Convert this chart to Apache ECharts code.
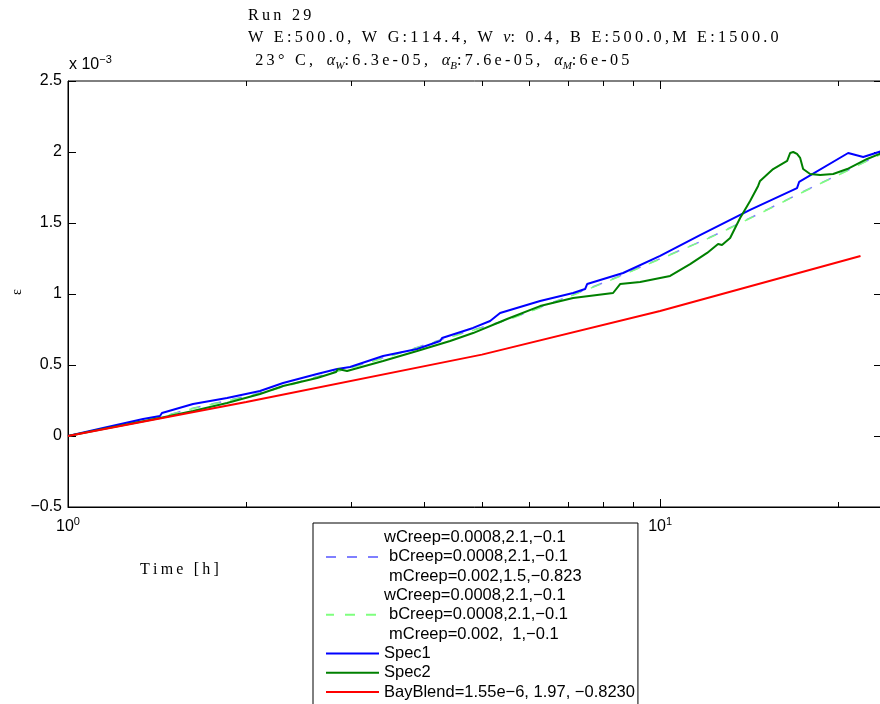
<!DOCTYPE html>
<html>
<head>
<meta charset="utf-8">
<script src="https://cdn.jsdelivr.net/npm/echarts@6/dist/echarts.min.js"></script>
<style>
  html, body { margin: 0; padding: 0; background: #fff; overflow: hidden; }
  #chart { width: 880px; height: 704px; }
</style>
</head>
<body>
<div id="chart"></div>
<script>
// Creep strain (x 1e-3) versus time [h], log time axis
const timeSpec1 = [1, 1.146, 1.339, 1.43, 1.441, 1.626, 1.856, 2.11, 2.308, 2.634, 2.848, 2.995, 3.405, 3.887, 4.25, 4.283, 4.832, 5.163, 5.367, 6.27, 7.129, 7.47, 7.529, 8.66, 10, 11.68, 14.19, 17.03, 17.17, 20.78, 22.03, 23.7];
const strainSpec1 = [0, 0.056, 0.120, 0.141, 0.162, 0.225, 0.268, 0.317, 0.373, 0.437, 0.472, 0.486, 0.563, 0.613, 0.669, 0.690, 0.761, 0.810, 0.866, 0.951, 1.007, 1.035, 1.070, 1.148, 1.268, 1.415, 1.592, 1.746, 1.789, 1.993, 1.965, 2.007];

const timeSpec2 = [1, 1.146, 1.43, 1.626, 1.856, 2.11, 2.308, 2.634, 2.836, 2.858, 2.96, 3.405, 3.887, 4.419, 4.832, 5.515, 6.27, 7.129, 8.329, 8.559, 9.253, 10, 10.397, 11.238, 12.006, 12.53, 12.72, 13.13, 13.65, 14.19, 14.64, 14.75, 15.52, 16.39, 16.58, 16.78, 17.03, 17.24, 17.44, 17.92, 18.63, 19.6, 20.7, 22.37, 23.7];
const strainSpec2 = [0, 0.049, 0.127, 0.176, 0.232, 0.296, 0.352, 0.408, 0.451, 0.472, 0.458, 0.528, 0.599, 0.669, 0.725, 0.824, 0.915, 0.972, 1.007, 1.070, 1.085, 1.113, 1.127, 1.211, 1.289, 1.352, 1.345, 1.394, 1.535, 1.655, 1.761, 1.796, 1.880, 1.937, 1.993, 2.000, 1.986, 1.958, 1.880, 1.845, 1.838, 1.845, 1.880, 1.951, 1.993];

const timeFit = [1, 1.146, 1.43, 1.626, 2.11, 2.634, 3.405, 4.594, 5.472, 6.443, 8.138, 9.507, 12.006, 14.03, 16.58, 18.13, 20.7, 23.7];
const strainFit1 = [0, 0.052, 0.135, 0.195, 0.303, 0.418, 0.550, 0.720, 0.815, 0.925, 1.090, 1.210, 1.390, 1.525, 1.675, 1.755, 1.870, 1.990];
const strainFit2 = [0, 0.051, 0.133, 0.193, 0.300, 0.414, 0.547, 0.717, 0.812, 0.922, 1.087, 1.207, 1.388, 1.523, 1.673, 1.753, 1.868, 1.988];

const timeBlend = [1, 2, 5, 10, 21.8];
const strainBlend = [0, 0.239, 0.573, 0.880, 1.268];

const seriesNames = [
  'wCreep=0.0008,2.1,\u22120.1\nbCreep=0.0008,2.1,\u22120.1\nmCreep=0.002,1.5,\u22120.823',
  'wCreep=0.0008,2.1,\u22120.1\nbCreep=0.0008,2.1,\u22120.1\nmCreep=0.002,  1,\u22120.1',
  'Spec1',
  'Spec2',
  'BayBlend=1.55e\u22126, 1.97, \u22120.8230'
];

// log-axis minor ticks and decade ticks, mirrored on the top edge
const xTickValues = [2, 3, 4, 5, 6, 7, 8, 9, 10, 20];

const yMin = -0.5, yMax = 2.5, yStep = 0.5;
const xMin = 1, xMax = 23.7;

const pairs = (xs, ys) => xs.map((x, i) => [x, ys[i]]);
const spread = s => Array.from(s).join('\u2009');
const gap = '\u2009\u2009';

const titleText = [
  '{r|' + spread('Run 29') + '}',
  '{r|' + spread('W E:500.0, W G:114.4, W ') + '\u2009}{i|\u03bd}{r|' + spread(': 0.4, B E:500.0,M E:1500.0') + '}',
  '{r|' + spread(' 23\u00b0 C, ') + gap + '}{i|\u03b1}{sub|W}{r|' + spread(':6.3e-05, ') + gap + '}{i|\u03b1}{sub|B}{r|' +
    spread(':7.6e-05, ') + gap + '}{i|\u03b1}{sub|M}{r|' + spread(':6e-05') + '}'
].join('\n');

const serif = 'Liberation Serif';
const sans = 'Liberation Sans';

const chart = echarts.init(document.getElementById('chart'));
chart.setOption({
  animation: false,
  backgroundColor: '#fff',
  textStyle: { fontFamily: sans },
  title: {
    text: titleText,
    left: 248,
    top: 4,
    padding: 0,
    textStyle: {
      fontWeight: 'normal',
      rich: {
        r: { fontFamily: serif, fontSize: 16.2, fontWeight: 'normal', lineHeight: 22.5, color: '#000' },
        i: { fontFamily: serif, fontSize: 16.2, fontWeight: 'normal', fontStyle: 'italic', lineHeight: 22.5, color: '#000' },
        sub: { fontFamily: serif, fontSize: 11, fontWeight: 'normal', fontStyle: 'italic', lineHeight: 15, verticalAlign: 'bottom', color: '#000' }
      }
    }
  },
  grid: {
    left: 68, top: 81, right: -2, bottom: 197,
    outerBoundsMode: 'none',
    show: true, borderColor: '#000', borderWidth: 1, backgroundColor: 'transparent'
  },
  legend: {
    data: seriesNames,
    orient: 'vertical',
    left: 313,
    top: 523,
    itemWidth: 53,
    itemHeight: 10,
    itemGap: 0,
    padding: [5, 3, 5, 12],
    borderColor: '#000',
    borderWidth: 1,
    borderRadius: 0,
    backgroundColor: '#fff',
    selectedMode: false,
    itemStyle: { opacity: 0 },
    formatter: name => {
      const lines = name.split('\n');
      if (lines.length === 1) return '{t|' + name + '}';
      return lines.map((l, k) => (k === 0 ? '{t|' : '{p|') + l + '}').join('\n');
    },
    textStyle: {
      color: '#000',
      fontFamily: sans,
      fontSize: 16.5,
      lineHeight: 19.3,
      rich: {
        t: { fontFamily: sans, fontSize: 16.5, lineHeight: 19.3, color: '#000' },
        p: { fontFamily: sans, fontSize: 16.5, lineHeight: 19.3, color: '#000', padding: [0, 0, 0, 5] }
      }
    }
  },
  xAxis: [{
    type: 'log',
    logBase: 10,
    min: xMin,
    max: xMax,
    position: 'bottom',
    axisLine: { show: true, onZero: false, lineStyle: { color: '#000', width: 1 } },
    axisTick: { show: false },
    splitLine: { show: false },
    axisLabel: {
      margin: 9,
      formatter: v => {
        const e = Math.log10(v);
        if (Math.abs(e - Math.round(e)) > 1e-6) return '';
        return '{b|10}{s|' + Math.round(e) + '}';
      },
      rich: {
        b: { fontFamily: sans, fontSize: 16, lineHeight: 22, color: '#000' },
        s: { fontFamily: sans, fontSize: 11, lineHeight: 12, verticalAlign: 'top', color: '#000' }
      }
    }
  }],
  yAxis: [{
    type: 'value',
    min: yMin, max: yMax, interval: yStep,
    position: 'left',
    axisLine: { show: true, onZero: false, lineStyle: { color: '#000', width: 1 } },
    axisTick: { show: true, inside: true, length: 8, lineStyle: { color: '#000' } },
    splitLine: { show: false },
    axisLabel: {
      margin: 6, color: '#000', fontFamily: sans, fontSize: 16,
      formatter: v => (v < 0 ? '\u2212' + Math.abs(v) : String(v))
    }
  }, {
    type: 'value',
    min: yMin, max: yMax, interval: yStep,
    position: 'right',
    axisLine: { show: true, onZero: false, lineStyle: { color: '#000', width: 1 } },
    axisTick: { show: true, inside: true, length: 8, lineStyle: { color: '#000' } },
    axisLabel: { show: false },
    splitLine: { show: false }
  }],
  graphic: [{
    type: 'text',
    left: 69,
    top: 54,
    style: {
      text: '{a|x 10}{s|\u22123}',
      rich: {
        a: { fontFamily: sans, fontSize: 16, lineHeight: 22, fill: '#000' },
        s: { fontFamily: sans, fontSize: 11, lineHeight: 12, verticalAlign: 'top', fill: '#000' }
      }
    }
  }, {
    type: 'text',
    left: 140,
    top: 562,
    style: { text: spread('Time [h]'), fontFamily: serif, fontSize: 16, fill: '#000' }
  }, {
    // y-axis title: strain symbol, rotated
    type: 'text',
    x: 17,
    y: 292,
    rotation: Math.PI / 2,
    style: { text: '\u03b5', fontFamily: serif, fontSize: 14, fill: '#000', align: 'center', verticalAlign: 'middle' }
  }],
  series: [{
    name: seriesNames[0],
    type: 'line',
    data: pairs(timeFit, strainFit1),
    showSymbol: false, symbol: 'none', smooth: 0.3,
    lineStyle: { color: '#7f7fff', width: 1.5, type: [10, 11] },
    itemStyle: { color: '#7f7fff' }
  }, {
    name: seriesNames[1],
    type: 'line',
    data: pairs(timeFit, strainFit2),
    showSymbol: false, symbol: 'none', smooth: 0.3,
    lineStyle: { color: '#7fff7f', width: 1.5, type: [10, 11], dashOffset: 2 },
    itemStyle: { color: '#7fff7f' }
  }, {
    name: seriesNames[2],
    type: 'line',
    data: pairs(timeSpec1, strainSpec1),
    showSymbol: false, symbol: 'none',
    lineStyle: { color: '#0000ff', width: 2 },
    itemStyle: { color: '#0000ff' }
  }, {
    name: seriesNames[3],
    type: 'line',
    data: pairs(timeSpec2, strainSpec2),
    showSymbol: false, symbol: 'none',
    lineStyle: { color: '#008000', width: 2 },
    itemStyle: { color: '#008000' }
  }, {
    name: seriesNames[4],
    type: 'line',
    data: pairs(timeBlend, strainBlend),
    showSymbol: false, symbol: 'none',
    lineStyle: { color: '#ff0000', width: 2 },
    itemStyle: { color: '#ff0000' }
  }, {
    type: 'custom',
    silent: true,
    z: 5,
    data: xTickValues.map(t => [t, yMin]),
    encode: { x: 0, y: 1 },
    renderItem: (params, api) => {
      const t = api.value(0);
      const bottom = api.coord([t, yMin]);
      const top = api.coord([t, yMax]);
      const len = Math.abs(Math.log10(t) - Math.round(Math.log10(t))) < 1e-9 ? 8 : 5;
      const x = Math.round(bottom[0]) + 0.5;
      return {
        type: 'group',
        children: [
          { type: 'line', shape: { x1: x, y1: bottom[1], x2: x, y2: bottom[1] - len }, style: { stroke: '#000', lineWidth: 1 } },
          { type: 'line', shape: { x1: x, y1: top[1], x2: x, y2: top[1] + len }, style: { stroke: '#000', lineWidth: 1 } }
        ]
      };
    }
  }]
});
</script>
</body>
</html>
